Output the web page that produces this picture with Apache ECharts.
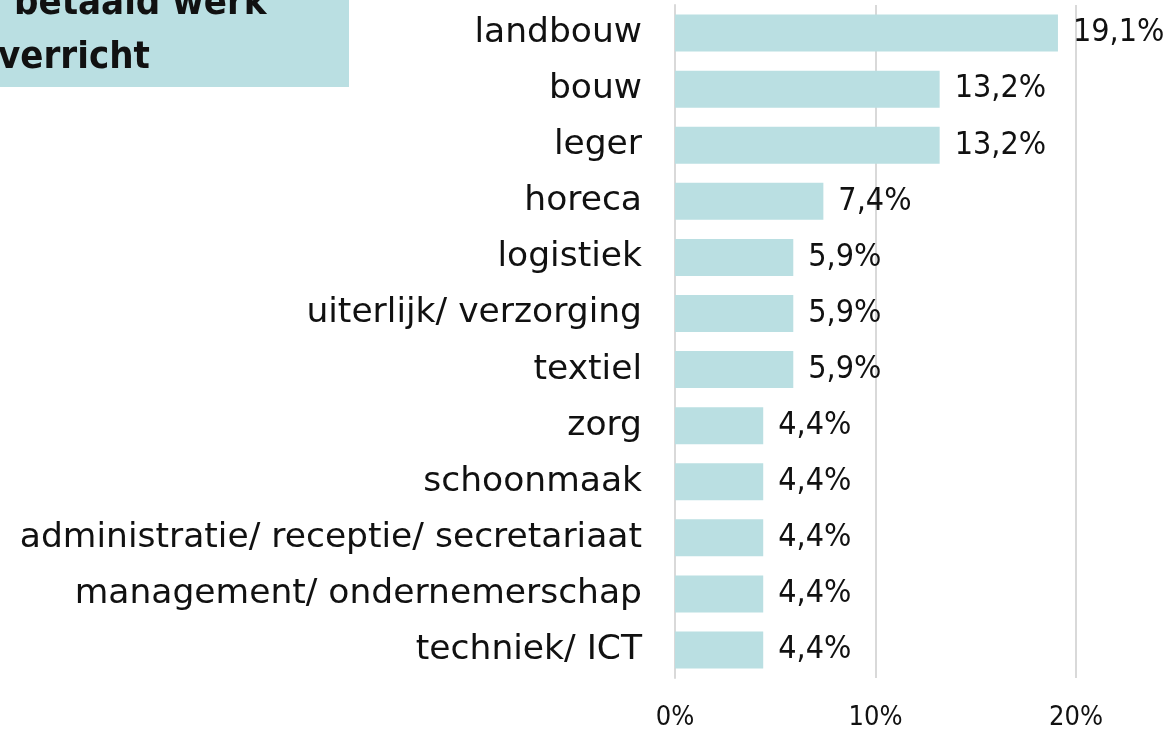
<!DOCTYPE html>
<html><head><meta charset="utf-8">
<script src="https://cdn.jsdelivr.net/npm/echarts@6/dist/echarts.min.js"></script>
<style>html,body{margin:0;padding:0;background:#fff}#c{width:1173px;height:731px}</style>
</head><body><div id="c"></div>
<script>
const categories = ["landbouw","bouw","leger","horeca","logistiek","uiterlijk/ verzorging","textiel","zorg","schoonmaak","administratie/ receptie/ secretariaat","management/ ondernemerschap","techniek/ ICT"];
const values = [19.1,13.2,13.2,7.4,5.9,5.9,5.9,4.4,4.4,4.4,4.4,4.4];
const titleLines = ["betaald werk","verricht"];
const FONT = '"DejaVu Sans Condensed","DejaVu Sans",sans-serif';
const FONTW = '"DejaVu Sans",sans-serif';
const chart = echarts.init(document.getElementById('c'));
chart.setOption({
  animation:false,
  grid:{left:675,right:97,top:5,bottom:49,containLabel:false},
  xAxis:{type:'value',min:0,max:20,interval:10,
    axisLine:{show:false},axisTick:{show:false},
    splitLine:{show:true,lineStyle:{color:'#d9d9d9',width:2}},
    axisLabel:{formatter:v=>v+'%',fontFamily:FONT,fontSize:27,color:'#111',margin:26}},
  yAxis:{type:'category',data:categories,inverse:true,
    axisLine:{show:true,lineStyle:{color:'#d9d9d9',width:2}},axisTick:{show:false},
    axisLabel:{fontFamily:FONTW,fontSize:34.5,color:'#111',margin:33}},
  series:[{type:'bar',data:values,barWidth:37,
    itemStyle:{color:'#badfe2'},
    label:{show:true,position:'right',distance:15,fontFamily:FONT,fontSize:32,color:'#111',
      formatter:p=>p.value.toFixed(1).replace('.',',')+'%'}}],
  graphic:[
    {type:'rect',left:0,top:0,shape:{width:349,height:87},style:{fill:'#badfe2'}},
    {type:'text',x:14,y:23,style:{text:titleLines[0],font:'bold 38px '+FONT,fill:'#111',textVerticalAlign:'bottom'}},
    {type:'text',x:-2,y:77,style:{text:titleLines[1],font:'bold 38px '+FONT,fill:'#111',textVerticalAlign:'bottom'}}
  ]
});
</script></body></html>
